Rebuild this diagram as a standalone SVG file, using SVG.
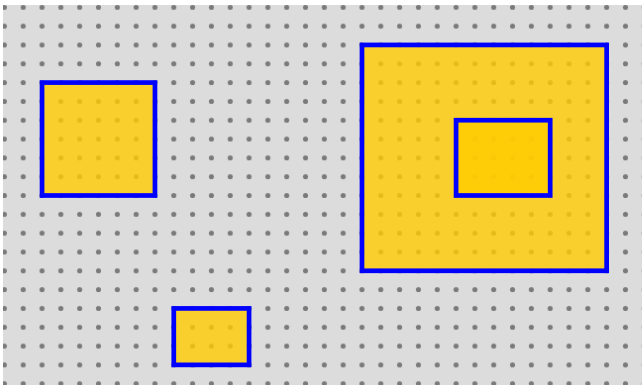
<svg xmlns="http://www.w3.org/2000/svg" width="642" height="385" viewBox="0 0 642 385">
  <defs>
    <pattern id="dots" x="-10" y="-10" width="20" height="20" patternUnits="userSpaceOnUse">
      <circle cx="10" cy="10" r="2.7" fill="#7A7A7A"/>
    </pattern>
  </defs>
  <style>
    .node { fill: #FFCC00; fill-opacity: 0.8; stroke: #0000FF; stroke-width: 5; }
  </style>
  <rect x="0" y="0" width="642" height="385" fill="#FFFFFF"/>
  <g transform="translate(4.4,7.3) scale(0.941)">
    <g id="background">
      <rect x="-1.5" y="-2.45" width="680" height="405" fill="#DCDCDC"/>
      <rect x="-1.5" y="-2.45" width="680" height="405" fill="url(#dots)"/>
    </g>
    <g id="node-left">
      <rect class="node" x="40" y="80" width="120" height="120"/>
    </g>
    <g id="node-big">
      <rect class="node" x="380" y="40" width="260" height="240"/>
    </g>
    <g id="node-inner">
      <rect class="node" x="480" y="120" width="100" height="80"/>
    </g>
    <g id="node-small">
      <rect class="node" x="180" y="320" width="80" height="60"/>
    </g>
  </g>
</svg>
